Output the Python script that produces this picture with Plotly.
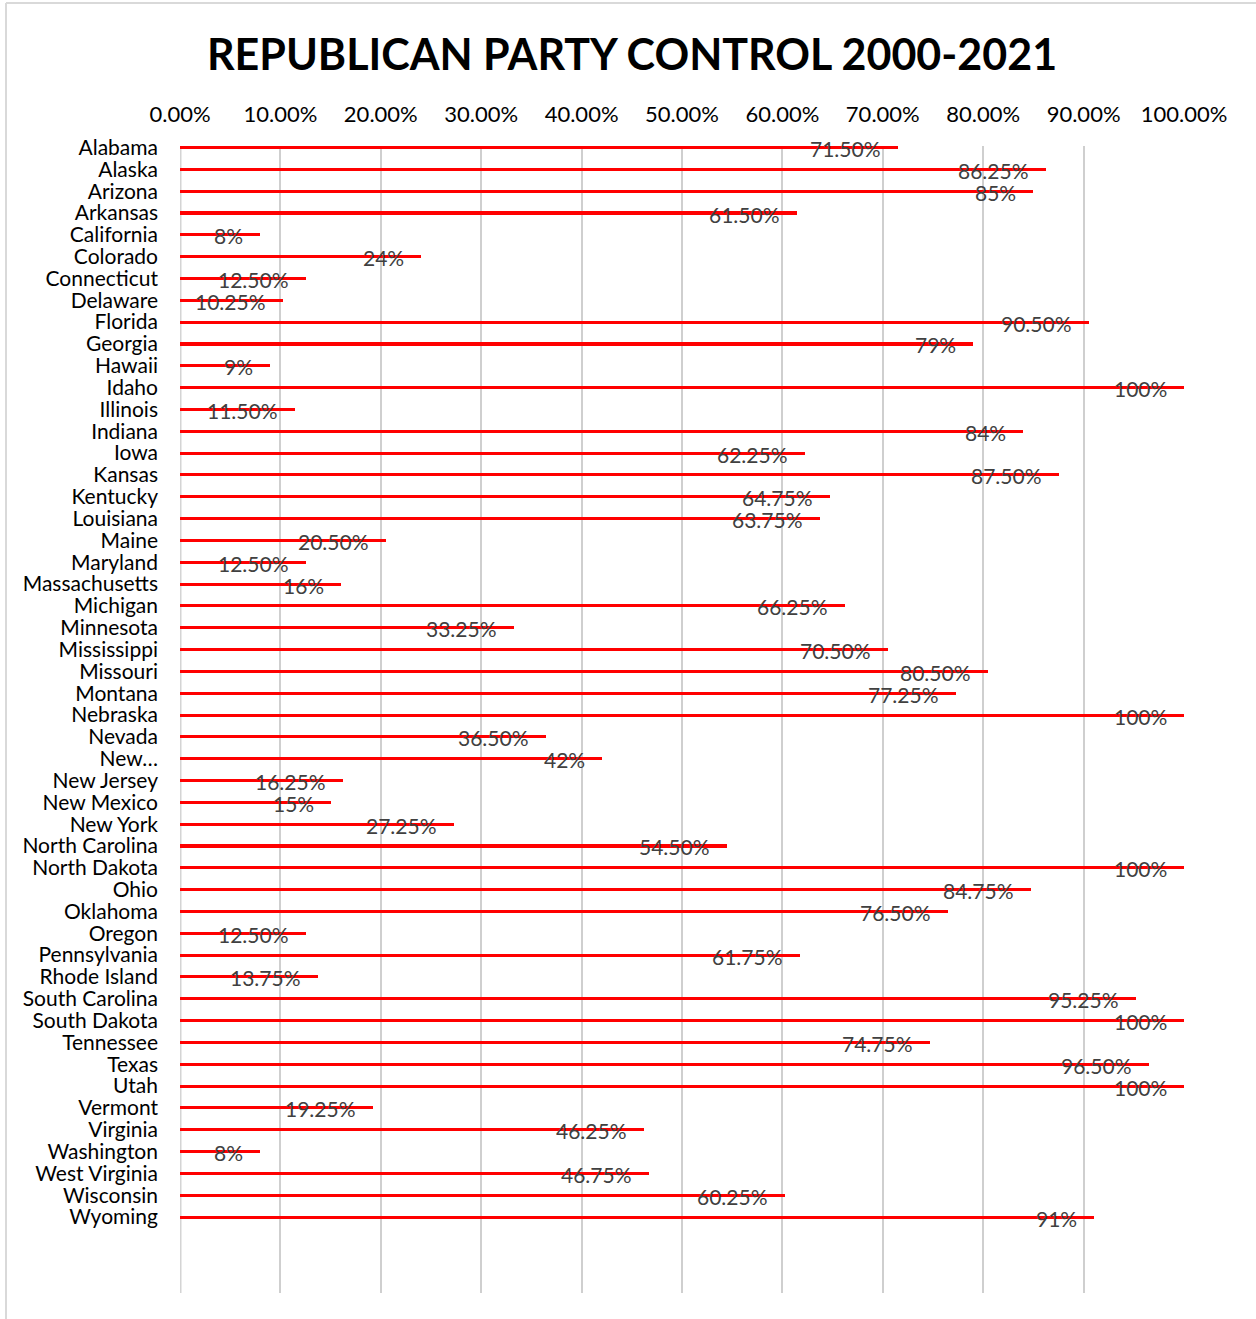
import plotly.graph_objects as go

states = ["Alabama", "Alaska", "Arizona", "Arkansas", "California", "Colorado", "Connecticut",
          "Delaware", "Florida", "Georgia", "Hawaii", "Idaho", "Illinois", "Indiana", "Iowa",
          "Kansas", "Kentucky", "Louisiana", "Maine", "Maryland", "Massachusetts", "Michigan",
          "Minnesota", "Mississippi", "Missouri", "Montana", "Nebraska", "Nevada", "New…",
          "New Jersey", "New Mexico", "New York", "North Carolina", "North Dakota", "Ohio",
          "Oklahoma", "Oregon", "Pennsylvania", "Rhode Island", "South Carolina", "South Dakota",
          "Tennessee", "Texas", "Utah", "Vermont", "Virginia", "Washington", "West Virginia",
          "Wisconsin", "Wyoming"]

control = [0.715, 0.8625, 0.85, 0.615, 0.08, 0.24, 0.125, 0.1025, 0.905, 0.79, 0.09, 1.0,
           0.115, 0.84, 0.6225, 0.875, 0.6475, 0.6375, 0.205, 0.125, 0.16, 0.6625, 0.3325,
           0.705, 0.805, 0.7725, 1.0, 0.365, 0.42, 0.1625, 0.15, 0.2725, 0.545, 1.0, 0.8475,
           0.765, 0.125, 0.6175, 0.1375, 0.9525, 1.0, 0.7475, 0.965, 1.0, 0.1925, 0.4625,
           0.08, 0.4675, 0.6025, 0.91]

labels = ["71.50%", "86.25%", "85%", "61.50%", "8%", "24%", "12.50%", "10.25%", "90.50%",
          "79%", "9%", "100%", "11.50%", "84%", "62.25%", "87.50%", "64.75%", "63.75%",
          "20.50%", "12.50%", "16%", "66.25%", "33.25%", "70.50%", "80.50%", "77.25%", "100%",
          "36.50%", "42%", "16.25%", "15%", "27.25%", "54.50%", "100%", "84.75%", "76.50%",
          "12.50%", "61.75%", "13.75%", "95.25%", "100%", "74.75%", "96.50%", "100%", "19.25%",
          "46.25%", "8%", "46.75%", "60.25%", "91%"]

x_ticks = [0, 0.1, 0.2, 0.3, 0.4, 0.5, 0.6, 0.7, 0.8, 0.9, 1.0]
x_tick_text = ["0.00%", "10.00%", "20.00%", "30.00%", "40.00%", "50.00%", "60.00%",
               "70.00%", "80.00%", "90.00%", "100.00%"]

title = "REPUBLICAN PARTY CONTROL 2000-2021"

FONT = "Lato, Open Sans, sans-serif"
W, H = 1256, 1319
L, R, T, B = 180, 72, 146, 26
pw, ph = W - L - R, H - T - B

fig = go.Figure()
fig.add_trace(go.Bar(
    x=control, y=states, orientation="h",
    marker=dict(color="#ff0000", line=dict(width=0)),
    width=0.14, hoverinfo="x+y", showlegend=False,
))

annotations = []
for s, v, t in zip(states, control, labels):
    annotations.append(dict(
        x=v, y=s, xref="x", yref="y", text=t, showarrow=False,
        xanchor="right", yanchor="middle", xshift=-15, yshift=-1,
        font=dict(family=FONT, size=21, color="#404040"),
    ))

fig.update_layout(
    width=W, height=H,
    margin=dict(l=L, r=R, t=T, b=B),
    paper_bgcolor="white", plot_bgcolor="white",
    title=dict(text="<b>" + title + "</b>", x=(632 - L) / pw, xref="paper",
               xanchor="center", y=1 - 55 / H, yanchor="middle",
               font=dict(family=FONT, size=43, color="#000000")),
    xaxis=dict(side="top", range=[0, 1.0], tickvals=x_ticks, ticktext=x_tick_text,
               showgrid=True, gridcolor="#cfcfcf", gridwidth=2,
               zeroline=False, showline=False, ticks="",
               ticklabelstandoff=19,
               tickfont=dict(family=FONT, size=22, color="#000000"),
               fixedrange=True),
    yaxis=dict(type="category", categoryorder="array", categoryarray=states,
               tickmode="array", tickvals=states, ticktext=states,
               range=[52.48, -0.07], showgrid=False, zeroline=False,
               showline=False, ticks="", ticklabelstandoff=21,
               tickfont=dict(family=FONT, size=21, color="#000000"),
               fixedrange=True),
    bargap=0,
    font=dict(family=FONT),
    annotations=annotations,
    shapes=[
        # zero line (left axis)
        dict(type="line", xref="x", yref="paper", x0=0, x1=0, y0=0, y1=1,
             line=dict(color="#d4d4d4", width=3), layer="below"),
        # outer chart border: top and left edges
        dict(type="line", xref="paper", yref="paper",
             x0=(6 - L) / pw, x1=(W - L) / pw, y0=1 + (T - 3) / ph, y1=1 + (T - 3) / ph,
             line=dict(color="#d9d9d9", width=2)),
        dict(type="line", xref="paper", yref="paper",
             x0=(6 - L) / pw, x1=(6 - L) / pw, y0=-(B + 5) / ph, y1=1 + (T - 3) / ph,
             line=dict(color="#d9d9d9", width=2)),
    ],
)

fig.write_html("out.html")
